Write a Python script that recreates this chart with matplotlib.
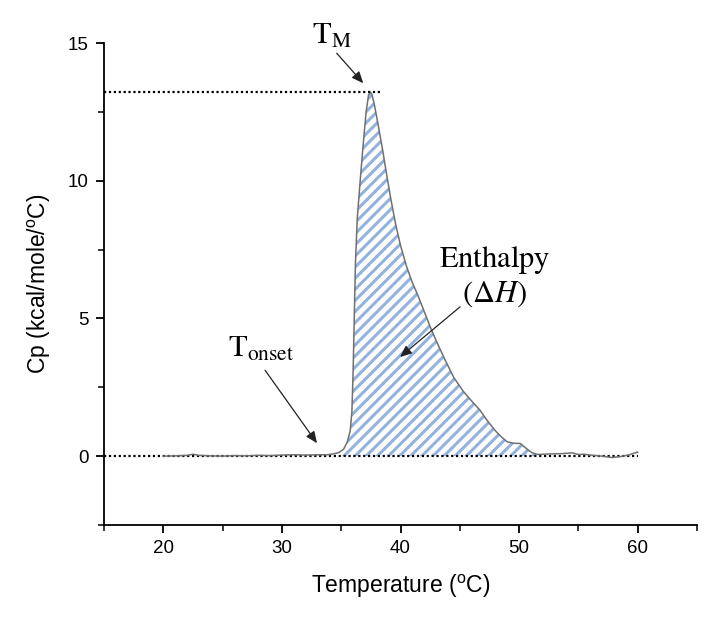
import matplotlib
matplotlib.use("Agg")
import matplotlib.pyplot as plt
import numpy as np
from matplotlib.ticker import FixedLocator

# ---- data ----
temperature = [20.0, 21.0, 22.0, 22.5, 23.0, 24.0, 25.0, 26.0, 27.0, 28.0, 29.0, 30.0,
               31.0, 32.0, 33.0, 33.8, 34.3, 34.8, 35.2, 35.5, 35.75, 35.9, 36.0, 36.1,
               36.2, 36.35, 36.6, 36.85, 37.1, 37.3, 37.45, 37.6, 37.8, 38.0, 38.5, 38.8,
               39.2, 39.6, 40.0, 40.5, 41.0, 41.5, 42.0, 42.5, 43.0, 43.75, 44.5, 45.3,
               46.0, 46.7, 47.3, 48.0, 48.5, 49.0, 49.5, 50.1, 50.6, 51.1, 51.6, 52.5,
               53.5, 54.5, 55.0, 55.5, 56.0, 57.0, 57.8, 58.5, 59.3, 60.0]
cp = [0.00, 0.01, 0.03, 0.07, 0.03, 0.01, 0.00, 0.02, 0.01, 0.03, 0.02, 0.04,
      0.05, 0.04, 0.05, 0.05, 0.08, 0.13, 0.25, 0.5, 0.9, 1.6, 3.0, 5.0,
      7.0, 8.6, 10.0, 11.3, 12.5, 13.1, 13.22, 13.12, 12.75, 12.3, 11.1, 10.3,
      9.3, 8.4, 7.65, 6.9, 6.3, 5.8, 5.25, 4.7, 4.2, 3.5, 2.85, 2.35,
      2.0, 1.67, 1.3, 0.92, 0.7, 0.52, 0.47, 0.46, 0.28, 0.12, 0.06, 0.08,
      0.09, 0.12, 0.06, 0.07, 0.04, 0.0, -0.05, -0.02, 0.05, 0.15]

peak_cp = 13.22
peak_line_end = 38.4
baseline_end = 60.0
fill_range = (34.8, 51.6)

x_ticks = [20, 30, 40, 50, 60]
x_minor = [15, 25, 35, 45, 55, 65]
y_ticks = [0, 5, 10, 15]
y_minor = [-2.5, 2.5, 7.5, 12.5]

plt.rcParams['hatch.linewidth'] = 2.2
plt.rcParams['mathtext.fontset'] = 'stix'
plt.rcParams['font.family'] = ['Liberation Sans', 'DejaVu Sans']

fig = plt.figure(figsize=(7.11, 6.28), dpi=100)
ax = fig.add_axes([0.1463, 0.164, 0.834, 0.7675])

T = np.array(temperature)
C = np.array(cp)

mask = (T >= fill_range[0]) & (T <= fill_range[1])
ax.fill_between(T, C, 0, where=mask, facecolor='white', edgecolor='#93b2df',
                hatch='///', linewidth=0, zorder=1)
ax.plot(T, C, color='#707070', lw=1.1, zorder=3)

ax.plot([15, peak_line_end], [peak_cp, peak_cp], color='black', lw=1.6,
        dashes=(1, 1.2), zorder=4)
ax.plot([15, baseline_end], [0, 0], color='black', lw=1.6,
        dashes=(1, 1.2), zorder=2)

ax.set_xlim(15, 65)
ax.set_ylim(-2.5, 15)
ax.spines['top'].set_visible(False)
ax.spines['right'].set_visible(False)
for s in ('left', 'bottom'):
    ax.spines[s].set_linewidth(1.3)
ax.set_xticks(x_ticks)
ax.set_yticks(y_ticks)
ax.xaxis.set_minor_locator(FixedLocator(x_minor))
ax.yaxis.set_minor_locator(FixedLocator(y_minor))
ax.tick_params(which='major', direction='out', length=6, width=1.3, labelsize=13.5, pad=5)
ax.tick_params(which='minor', direction='out', length=4, width=1.1)

ax.set_xlabel(r'Temperature ($\mathregular{^o}$C)', fontsize=16.5, labelpad=11)
ax.set_ylabel(r'Cp (kcal/mole/$\mathregular{^o}$C)', fontsize=16.5, labelpad=11)

arrow_kw = dict(arrowstyle='-|>,head_length=0.7,head_width=0.3', color='#222222',
                lw=0.9, shrinkA=0, shrinkB=0)

ax.text(32.5, 14.97, r'$\mathrm{T}_\mathrm{M}$', fontsize=22, ha='left', va='baseline',
        clip_on=False)
ax.annotate('', xy=(36.86, 13.54), xytext=(34.62, 14.63), arrowprops=arrow_kw,
            annotation_clip=False)

ax.text(25.45, 3.6, r'$\mathrm{T}_\mathrm{onset}$', fontsize=22, ha='left', va='baseline')
ax.annotate('', xy=(32.96, 0.47), xytext=(28.58, 3.12), arrowprops=arrow_kw)

ax.text(47.9, 6.87, r'$\mathrm{Enthalpy}$', fontsize=22, ha='center', va='baseline')
ax.text(47.9, 5.6, r'$(\Delta H)$', fontsize=22, ha='center', va='baseline')
ax.annotate('', xy=(39.96, 3.6), xytext=(45.02, 5.42), arrowprops=arrow_kw)

fig.savefig('out.png', dpi=100)
